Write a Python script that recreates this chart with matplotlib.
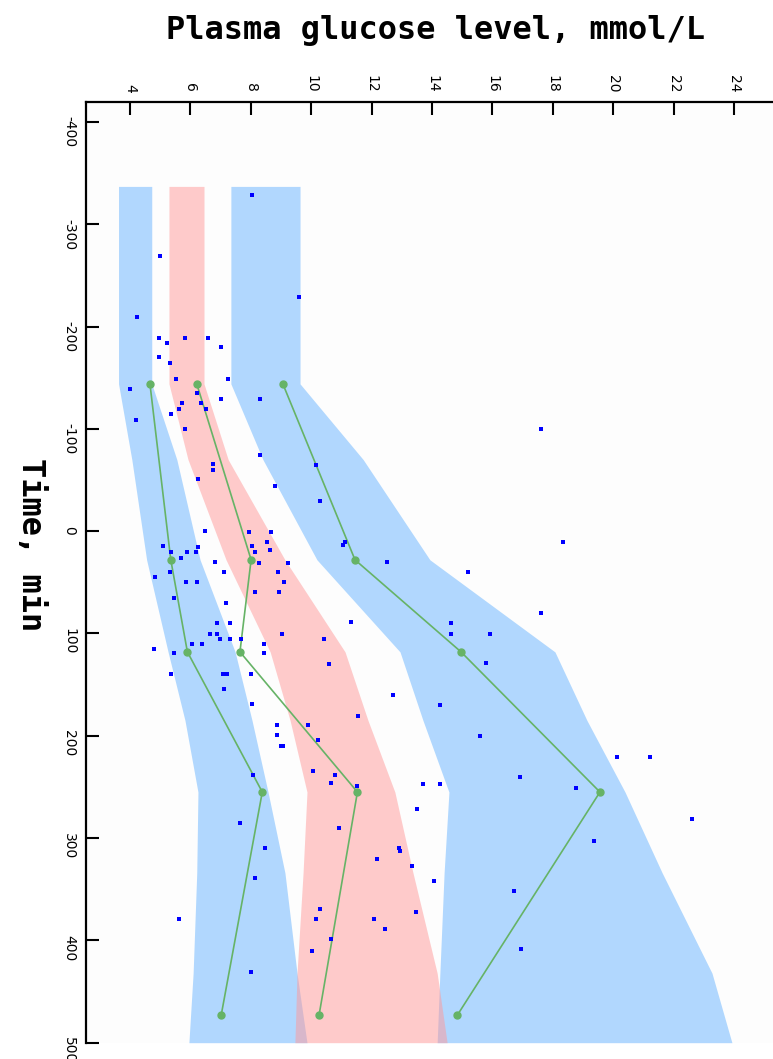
import matplotlib
matplotlib.use("Agg")
import matplotlib.pyplot as plt

plt.rcParams["axes.unicode_minus"] = False

# band edges (time, min -> glucose mmol/L)
band_t = [-337, -144, -70, 28, 118, 185, 255, 334, 432, 500]
low_lo = [3.62, 3.62, 4.06, 4.55, 5.26, 5.82, 6.25, 6.21, 6.09, 5.95]
low_hi = [4.72, 4.72, 5.55, 6.32, 7.48, 8.04, 8.57, 9.13, 9.53, 9.86]
mid_lo = [5.29, 5.29, 5.92, 7.18, 8.64, 9.30, 9.86, 9.73, 9.53, 9.46]
mid_hi = [6.45, 6.45, 7.25, 9.13, 11.12, 11.88, 12.77, 13.37, 14.17, 14.50]
up_lo = [7.34, 7.34, 8.40, 10.19, 12.94, 13.70, 14.56, 14.40, 14.26, 14.17]
up_hi = [9.63, 9.63, 11.72, 13.93, 18.07, 19.13, 20.39, 21.62, 23.27, 23.93]

# mean curves
mean_t = [-144, 28, 118, 255, 473]
mean_low = [4.66, 5.35, 5.90, 8.38, 7.02]
mean_mid = [6.21, 8.01, 7.64, 11.53, 10.26]
mean_up = [9.06, 11.45, 14.96, 19.56, 14.84]

# individual measurements
obs_t = [-328.6, -269.0, -228.9, -209.4, -189.1, -184.3, -189.1, -189.1, -179.8, -170.0,
         -164.7, -149.1, -149.1, -139.3, -135.4, -125.6, -119.2, -125.6, -119.2, -129.5,
         -129.5, -109.0, -114.3, -99.6, -74.8, -64.7, -65.4, -59.8, -51.0, -44.2,
         -29.2, -0.2, 0.5, 0.5, 14.2, 20.3, 25.9, 20.3, 20.3, 15.2,
         14.2, 20.3, 10.3, 18.4, 30.8, 30.8, 30.1, 44.5, 40.2, 50.0,
         50.0, 40.2, 40.2, 49.7, 59.4, 59.4, 65.3, 70.5, 89.4, 89.4,
         100.5, 100.5, 100.5, 105.7, 105.7, 110.3, 110.3, 105.1, 110.3, 114.9,
         119.3, 119.3, 139.9, 139.9, 139.9, 139.9, 154.3, -99.6, 13.8, 10.9,
         10.3, 30.4, 40.2, 80.0, 89.4, 100.5, 100.5, 129.1, 89.0, 105.7,
         129.5, 169.9, 200.2, 221.1, 221.1, 240.3, 251.0, 247.4, 247.4, 271.6,
         281.6, 302.4, 312.2, 327.1, 341.9, 351.7, 371.9, 408.0, 169.1, 160.1,
         189.7, 199.2, 210.3, 210.3, 189.7, 204.1, 180.6, 238.6, 234.7, 238.6,
         246.2, 248.8, 290.5, 309.4, 309.4, 320.4, 339.3, 369.0, 378.8, 378.8,
         389.1, 398.9, 410.1, 430.6, 284.8, 378.8]
obs_g = [8.03, 5.00, 9.61, 4.23, 4.95, 5.23, 5.81, 6.59, 7.02, 4.95,
         5.31, 5.51, 7.24, 4.01, 6.21, 5.71, 5.61, 6.35, 6.51, 7.00,
         8.29, 4.21, 5.37, 5.82, 8.30, 10.16, 6.75, 6.75, 6.24, 8.79,
         10.29, 6.49, 7.93, 8.67, 5.09, 5.36, 5.69, 5.89, 6.18, 6.26,
         8.03, 8.15, 8.55, 8.65, 8.28, 9.23, 6.80, 4.83, 5.31, 5.85,
         6.22, 7.11, 8.89, 9.10, 8.92, 8.13, 5.45, 7.18, 6.87, 7.30,
         9.02, 6.64, 6.87, 6.98, 7.31, 6.05, 6.38, 7.68, 8.43, 4.80,
         5.47, 8.43, 5.37, 7.07, 7.22, 8.01, 7.12, 17.61, 11.05, 11.13,
         18.35, 12.52, 15.18, 17.61, 14.63, 14.63, 15.92, 15.80, 11.31, 10.42,
         10.59, 14.26, 15.58, 20.13, 21.22, 16.90, 18.78, 13.70, 14.26, 13.50,
         22.61, 19.35, 12.94, 13.33, 14.08, 16.72, 13.47, 16.93, 8.05, 12.72,
         8.86, 8.86, 9.00, 9.08, 9.90, 10.24, 11.56, 8.06, 10.07, 10.78,
         10.66, 11.51, 10.91, 8.48, 12.90, 12.19, 8.14, 10.29, 10.16, 12.08,
         12.45, 10.65, 10.03, 8.01, 7.64, 5.61]

fig = plt.figure(figsize=(7.73, 10.59), dpi=100)
ax = fig.add_axes([86 / 773, 16 / 1059, 687 / 773, 941 / 1059])
ax.set_facecolor("#fdfdfd")

blue = "#66b3ff"
pink = "#ff9999"
ax.fill_betweenx(band_t, low_lo, low_hi, color=blue, alpha=0.5, lw=0)
ax.fill_betweenx(band_t, up_lo, up_hi, color=blue, alpha=0.5, lw=0)
ax.fill_betweenx(band_t, mid_lo, mid_hi, color=pink, alpha=0.5, lw=0)

green = "#66b366"
for m in (mean_low, mean_mid, mean_up):
    ax.plot(m, mean_t, color=green, lw=1.2, marker="o", ms=5, mec=green, mfc=green)

ax.scatter(obs_g, obs_t, s=12, marker="s", color="#0000ff", lw=0, zorder=5)

ax.set_xlim(2.543, 25.29)
ax.set_ylim(500.3, -419.5)
ax.set_xticks(range(4, 25, 2))
ax.set_yticks(range(-400, 501, 100))

ax.xaxis.tick_top()
ax.tick_params(axis="both", direction="in", length=9, width=1.5, labelsize=10,
               labelrotation=-90, pad=7)
ax.tick_params(axis="x", top=True, bottom=False)
for s in ("right", "bottom"):
    ax.spines[s].set_visible(False)
for s in ("left", "top"):
    ax.spines[s].set_linewidth(1.6)

fig.text(436 / 773, 1 - 30 / 1059, "Plasma glucose level, mmol/L", ha="center", va="center",
         family="DejaVu Sans Mono", weight="bold", fontsize=23)
fig.text(30 / 773, 1 - 545 / 1059, "Time, min", ha="center", va="center", rotation=-90,
         family="DejaVu Sans Mono", weight="bold", fontsize=23)

fig.savefig("out.png", dpi=100)
